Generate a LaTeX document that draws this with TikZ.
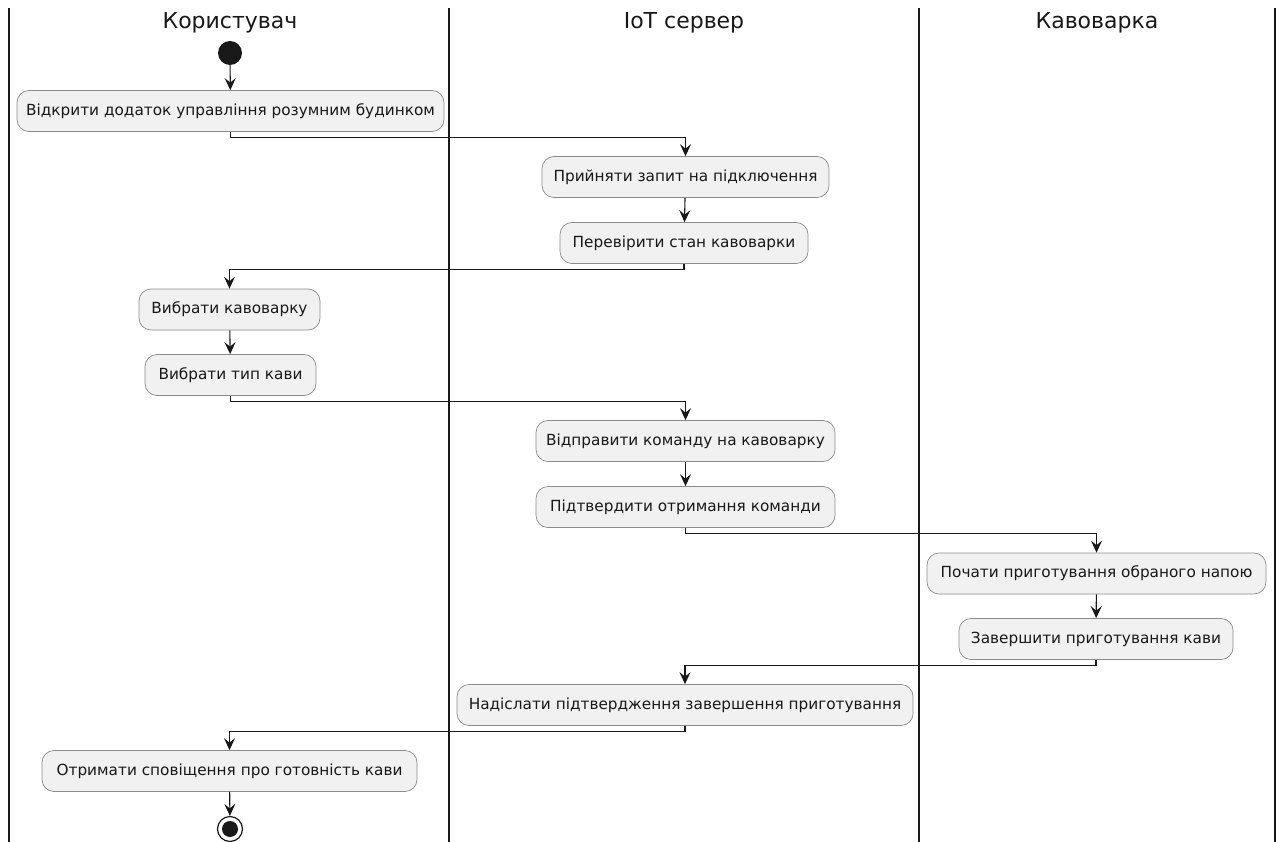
\documentclass[tikz,border=0pt]{standalone}
\usepackage{fontspec}
\setmainfont{DejaVu Sans}
\usetikzlibrary{arrows.meta}
\definecolor{boxfill}{HTML}{F1F1F1}
\definecolor{ink}{HTML}{181818}
\tikzset{
  act/.style={draw=ink!50, line width=0.7pt, fill=boxfill, rounded corners=12pt,
    minimum height=41pt, inner xsep=0pt, font=\fontsize{15.3}{18}\selectfont, text=ink},
  flow/.style={draw=ink, line width=1.1pt, -{Stealth[length=12pt,width=11pt,inset=4.5pt]}},
  lane/.style={draw=ink, line width=1.4pt},
  title/.style={font=\fontsize{22}{26}\selectfont, text=ink},
}
\begin{document}
\begin{tikzpicture}[x=1pt,y=-1pt]
\useasboundingbox (0,0) rectangle (1276,842);
% lanes
\draw[lane] (9,8) -- (9,842);
\draw[lane] (449,8) -- (449,842);
\draw[lane] (919,8) -- (919,842);
\draw[lane] (1275,8) -- (1275,842);
\node[title] (t1) at (230,23) {Користувач};
\node[title] (t2) at (684,23) {IoT сервер};
\node[title] (t3) at (1097,23) {Кавоварка};
% start/end
\node[circle, fill=ink, minimum size=24pt, inner sep=0pt] (start) at (230,53) {};
\node[act, minimum width=427pt] (b1) at (230.5,111) {Відкрити додаток управління розумним будинком};
\node[act, minimum width=287pt] (b2) at (685.5,177) {Прийняти запит на підключення};
\node[act, minimum width=248pt] (b3) at (684,243) {Перевірити стан кавоварки};
\node[act, minimum width=181pt] (b4) at (229.5,309.5) {Вибрати кавоварку};
\node[act, minimum width=171pt] (b5) at (230.5,375) {Вибрати тип кави};
\node[act, minimum width=299pt] (b6) at (685.5,441) {Відправити команду на кавоварку};
\node[act, minimum width=299pt] (b7) at (685.5,507) {Підтвердити отримання команди};
\node[act, minimum width=339pt] (b8) at (1096.5,573.5) {Почати приготування обраного напою};
\node[act, minimum width=274pt] (b9) at (1096,639) {Завершити приготування кави};
\node[act, minimum width=456pt] (b10) at (685,705) {Надіслати підтвердження завершення приготування};
\node[act, minimum width=375pt] (b11) at (229.5,771) {Отримати сповіщення про готовність кави};
\node[circle, draw=ink, line width=1.2pt, fill=white, minimum size=25pt, inner sep=0pt] (end) at (230,829) {};
\node[circle, fill=ink, minimum size=16pt, inner sep=0pt] (endin) at (end.center) {};
% flows
\draw[flow] (start) -- (b1);
\draw[flow] (b1.south) -- ++(0,6) -| (b2.north);
\draw[flow] (b2) -- (b3);
\draw[flow] (b3.south) -- ++(0,6) -| (b4.north);
\draw[flow] (b4) -- (b5);
\draw[flow] (b5.south) -- ++(0,6) -| (b6.north);
\draw[flow] (b6) -- (b7);
\draw[flow] (b7.south) -- ++(0,6) -| (b8.north);
\draw[flow] (b8) -- (b9);
\draw[flow] (b9.south) -- ++(0,6) -| (b10.north);
\draw[flow] (b10.south) -- ++(0,6) -| (b11.north);
\draw[flow] (b11) -- (end);
\end{tikzpicture}
\end{document}
